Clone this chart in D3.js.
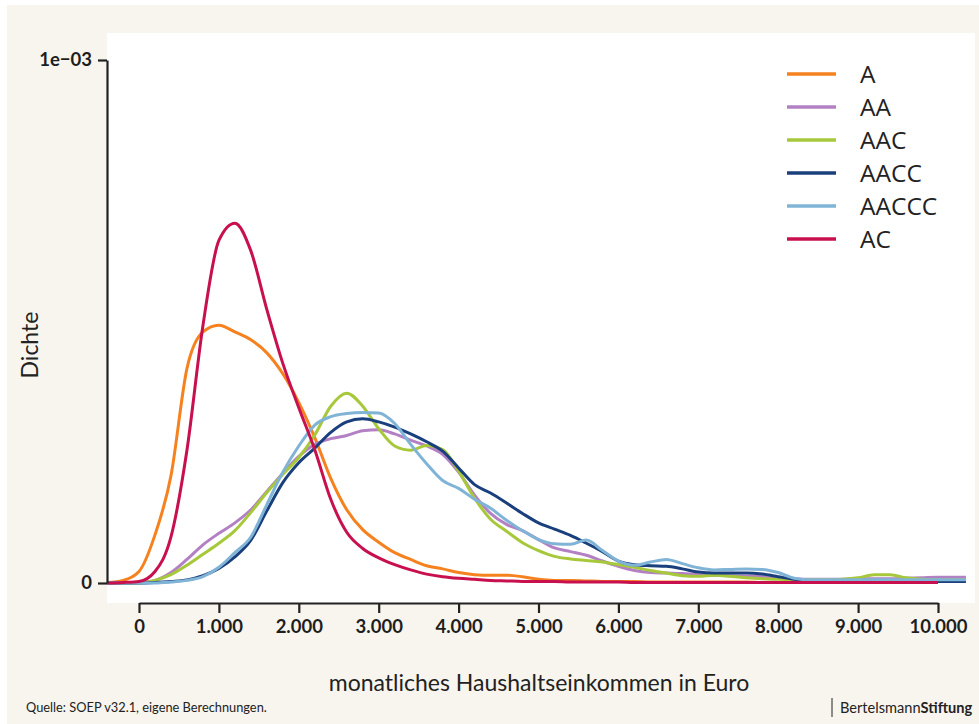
<!DOCTYPE html>
<html>
<head>
<meta charset="utf-8">
<script src="https://cdn.jsdelivr.net/npm/d3@7"></script>
<style>
  body { margin: 0; background: #fff; }
  svg { display: block; }
</style>
</head>
<body>
<svg id="chart"></svg>
<script>
'use strict'

const width = 979,
      height = 724

// income grid (Euro) shared by all density curves
const incomes = [-400, -200, 0, 200, 400, 600, 800, 1000, 1200, 1400, 1600, 1800, 2000, 2200, 2400,
  2600, 2800, 3000, 3200, 3400, 3600, 3800, 4000, 4200, 4400, 4600, 4800, 5000, 5200, 5400,
  5600, 5800, 6000, 6200, 6400, 6600, 6800, 7000, 7200, 7400, 7600, 7800, 8000, 8200, 8400,
  8600, 8800, 9000, 9200, 9400, 9600, 9800, 10000, 10200, 10350]

// densities, in units of 1e-6 (null = curve not drawn there)
const densA = [1, 5, 22, 92, 205, 410, 480, 493, 480, 465, 440, 400, 345, 278, 200,
  140, 102, 78, 58, 45, 33, 27, 20, 16, 15, 15, 12, 7, 5, 5,
  4, 3, 3, 3, 2, 2, 2, 2, 2, 2, 2, 1, 1, 1, 1,
  1, 1, 1, 1, 1, 1, 1, 1, null, null]
const densAA = [0, 0, 1, 5, 20, 45, 73, 95, 115, 140, 175, 210, 242, 265, 276,
  282, 291, 293, 285, 273, 262, 246, 212, 168, 133, 112, 100, 83, 67, 60,
  53, 42, 32, 24, 20, 19, 18, 16, 15, 14, 13, 12, 10, 8, 7,
  7, 7, 8, 8, 8, 9, 10, 11, 11, 11]
const densAAC = [0, 0, 0, 5, 16, 34, 55, 76, 100, 135, 173, 208, 240, 283, 338,
  363, 338, 295, 262, 254, 263, 255, 214, 162, 122, 99, 77, 62, 51, 46,
  43, 40, 35, 30, 24, 19, 14, 13, 15, 13, 10, 8, 7, 6, 6,
  6, 7, 10, 16, 16, 10, 7, 6, 6, 6]
const densAACC = [0, 0, 0, 1, 3, 6, 14, 28, 50, 82, 138, 192, 230, 258, 288,
  308, 314, 308, 298, 285, 270, 252, 220, 188, 172, 153, 133, 115, 103, 91,
  76, 60, 42, 35, 33, 32, 27, 21, 19, 19, 19, 17, 12, 7, 4,
  3, 3, 3, 3, 3, 3, 3, 3, 3, 3]
const densAACCC = [0, 0, 0, 0, 2, 5, 12, 30, 58, 88, 150, 212, 262, 302, 318,
  324, 326, 325, 305, 265, 228, 196, 181, 160, 143, 120, 100, 83, 75, 74,
  82, 62, 42, 34, 40, 45, 37, 29, 25, 26, 27, 26, 20, 9, 6,
  6, 6, 6, 6, 6, 6, 6, 6, 6, 6]
const densAC = [0, 1, 3, 22, 88, 254, 492, 655, 688, 635, 523, 420, 335, 255, 160,
  97, 66, 48, 35, 25, 17, 12, 9, 7, 5, 4, 3, 3, 3, 2,
  2, 2, 2, 1, 1, 1, 1, 1, 1, 1, 1, 1, 1, 1, 1,
  1, 1, 1, 1, 1, 1, 1, 1, null, null]

const groups = ["A", "AA", "AAC", "AACC", "AACCC", "AC"]
const groupValues = [densA, densAA, densAAC, densAACC, densAACCC, densAC]
const groupColors = ["#f5821f", "#b380c4", "#a6c83a", "#1a3f7d", "#80b4d6", "#c8104f"]

const xTicks = [0, 1000, 2000, 3000, 4000, 5000, 6000, 7000, 8000, 9000, 10000]
const yTicks = [0, 1e-3]

const svg = d3.select("#chart")
svg.attr("width", width)
   .attr("height", height)

// cream background and white plotting panel
svg.append("rect")
   .attr("x", 7).attr("y", 5)
   .attr("width", width - 7).attr("height", height - 5)
   .attr("fill", "#f8f5ee")

const panel = { left: 107, right: 975, top: 33, bottom: 603 }
svg.append("rect")
   .attr("x", panel.left).attr("y", panel.top)
   .attr("width", panel.right - panel.left).attr("height", panel.bottom - panel.top)
   .attr("fill", "#ffffff")

const x = d3.scaleLinear().domain([0, 10000]).range([139, 938])
const y = d3.scaleLinear().domain([0, 1e-3]).range([583, 60])

const de = d3.formatLocale({ decimal: ",", thousands: ".", grouping: [3], currency: ["", " €"] })
const fmtX = de.format(",")

svg.append("clipPath").attr("id", "clip")
   .append("rect")
   .attr("x", panel.left).attr("y", panel.top)
   .attr("width", panel.right - panel.left).attr("height", panel.bottom - panel.top)

// density lines
const line = d3.line()
  .defined(d => d[1] !== null)
  .x(d => x(d[0]))
  .y(d => y(d[1] * 1e-6))
  .curve(d3.curveMonotoneX)

svg.append("g")
   .attr("clip-path", "url(#clip)")
  .selectAll("path")
  .data(groups)
  .enter().append("path")
    .attr("fill", "none")
    .attr("stroke", (d, i) => groupColors[i])
    .attr("stroke-width", 3)
    .attr("stroke-linejoin", "round")
    .attr("d", (d, i) => line(incomes.map((v, j) => [v, groupValues[i][j]])))

// axes
const xAxis = svg.append("g")
  .attr("transform", `translate(0,${panel.bottom})`)
  .call(d3.axisBottom(x).tickValues(xTicks).tickFormat(fmtX).tickSize(10).tickSizeOuter(0).tickPadding(7))
const yAxis = svg.append("g")
  .attr("transform", `translate(${panel.left},0)`)
  .call(d3.axisLeft(y).tickValues(yTicks).tickFormat(d => d ? "1e\u221203" : "0").tickSize(9).tickSizeOuter(0).tickPadding(6))

for (const ax of [xAxis, yAxis]) {
  ax.select(".domain").attr("stroke", "#222").attr("stroke-width", 2.2)
  ax.selectAll(".tick line").attr("stroke", "#222").attr("stroke-width", 2.2)
  ax.selectAll(".tick text")
    .attr("fill", "#1e1e1e")
    .style("font-family", "Lato, sans-serif")
    .style("font-weight", "700")
    .style("font-size", "18.5px")
}

// axis titles
svg.append("text")
   .attr("x", 539).attr("y", 691)
   .attr("text-anchor", "middle")
   .attr("fill", "#222")
   .style("font-family", "Lato, sans-serif")
   .style("font-size", "23px")
   .text("monatliches Haushaltseinkommen in Euro")

svg.append("text")
   .attr("transform", "translate(38,345) rotate(-90)")
   .attr("text-anchor", "middle")
   .attr("fill", "#222")
   .style("font-family", "Lato, sans-serif")
   .style("font-size", "23px")
   .text("Dichte")

// legend
const legend = svg.append("g")
  .selectAll("g")
  .data(groups)
  .enter().append("g")
    .attr("transform", (d, i) => `translate(787,${74 + i * 33})`)
legend.append("line")
  .attr("x1", 0).attr("x2", 49)
  .attr("stroke", (d, i) => groupColors[i])
  .attr("stroke-width", 3.5)
legend.append("text")
  .attr("x", 73).attr("dy", "0.36em")
  .attr("fill", "#222")
  .style("font-family", "'Open Sans', sans-serif")
  .style("font-size", "24.5px")
  .text(d => d)

// footer
svg.append("text")
   .attr("x", 26).attr("y", 712)
   .attr("fill", "#222")
   .style("font-family", "Lato, sans-serif")
   .style("font-size", "12.8px")
   .text("Quelle: SOEP v32.1, eigene Berechnungen.")

svg.append("line")
   .attr("x1", 832).attr("x2", 832).attr("y1", 698).attr("y2", 717)
   .attr("stroke", "#222").attr("stroke-width", 1)
const brand = svg.append("text")
   .attr("x", 840).attr("y", 713)
   .attr("fill", "#222")
   .style("font-family", "Lato, sans-serif")
   .style("font-size", "14.6px")
brand.append("tspan").text("Bertelsmann")
brand.append("tspan").style("font-weight", "700").text("Stiftung")
</script>
</body>
</html>
